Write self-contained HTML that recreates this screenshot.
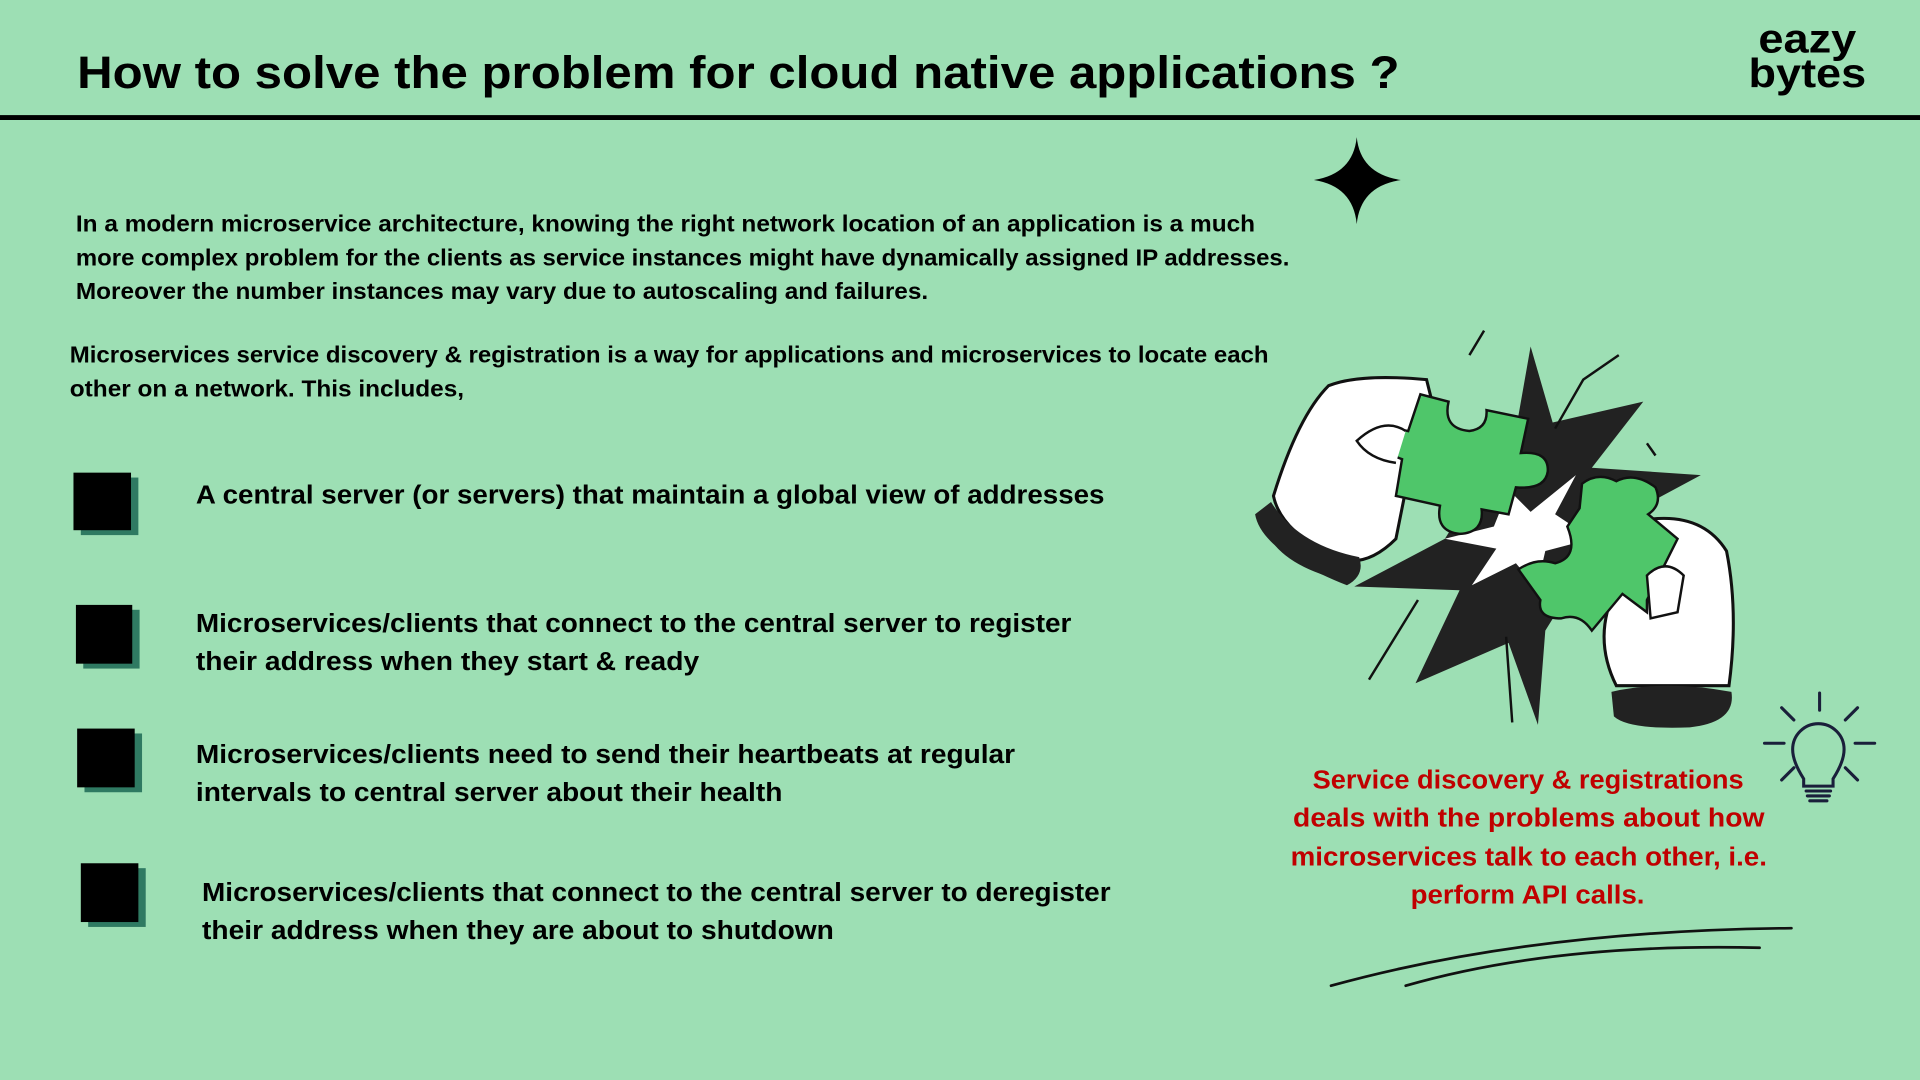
<!DOCTYPE html>
<html><head><meta charset="utf-8"><style>
html,body{margin:0;padding:0;background:#9ddfb4;}
svg{display:block}
text{font-family:"Liberation Sans",sans-serif;font-weight:bold;}
</style></head><body>
<svg width="1920" height="1080" viewBox="0 0 1568 882" xmlns="http://www.w3.org/2000/svg">
<rect width="1568" height="882" fill="#9ddfb4"/>
<text x="63" y="72" font-size="37" textLength="1080" lengthAdjust="spacingAndGlyphs">How to solve the problem for cloud native applications  ?</text>
<text x="1436" y="43" font-size="33" textLength="80" lengthAdjust="spacingAndGlyphs">eazy</text>
<text x="1428" y="71" font-size="33" textLength="96" lengthAdjust="spacingAndGlyphs">bytes</text>
<rect x="0" y="94" width="1568" height="4" fill="#000"/>
<path d="M1108 112 Q1111 142 1144 147 Q1111 152 1108 183 Q1105 152 1073 147 Q1105 142 1108 112Z" fill="#000"/>
<g font-size="18.5">
<text x="62" y="189" textLength="963" lengthAdjust="spacingAndGlyphs">In a modern microservice architecture, knowing the right network location of an application is a much</text>
<text x="62" y="217" textLength="991" lengthAdjust="spacingAndGlyphs">more complex problem for the clients as service instances might have dynamically assigned IP addresses.</text>
<text x="62" y="244" textLength="696" lengthAdjust="spacingAndGlyphs">Moreover the number instances may vary due to autoscaling and failures.</text>
<text x="57" y="296" textLength="979" lengthAdjust="spacingAndGlyphs">Microservices service discovery &amp; registration is a way for applications and microservices to locate each</text>
<text x="57" y="324" textLength="322" lengthAdjust="spacingAndGlyphs">other on a network. This includes,</text>
</g>
<g fill="#2f7a62">
<rect x="66" y="390" width="47" height="47"/><rect x="68" y="498" width="46" height="48"/>
<rect x="69" y="599" width="47" height="48"/><rect x="72" y="709" width="47" height="48"/>
</g>
<g fill="#000">
<rect x="60" y="386" width="47" height="47"/><rect x="62" y="494" width="46" height="48"/>
<rect x="63" y="595" width="47" height="48"/><rect x="66" y="705" width="47" height="48"/>
</g>
<g font-size="21.5">
<text x="160" y="411" textLength="742" lengthAdjust="spacingAndGlyphs">A central server (or servers) that maintain a global view of addresses</text>
<text x="160" y="516" textLength="715" lengthAdjust="spacingAndGlyphs">Microservices/clients that connect to the central server to register</text>
<text x="160" y="547" textLength="411" lengthAdjust="spacingAndGlyphs">their address when they start &amp; ready</text>
<text x="160" y="623" textLength="669" lengthAdjust="spacingAndGlyphs">Microservices/clients need to send their heartbeats at regular</text>
<text x="160" y="654" textLength="479" lengthAdjust="spacingAndGlyphs">intervals to central server about their health</text>
<text x="165" y="736" textLength="742" lengthAdjust="spacingAndGlyphs">Microservices/clients that connect to the central server to deregister</text>
<text x="165" y="767" textLength="516" lengthAdjust="spacingAndGlyphs">their address when they are about to shutdown</text>
</g>
<g font-size="21.5" fill="#c00000">
<text x="1072" y="644" textLength="352" lengthAdjust="spacingAndGlyphs">Service discovery &amp; registrations</text>
<text x="1056" y="675" textLength="385" lengthAdjust="spacingAndGlyphs">deals with the problems about how</text>
<text x="1054" y="707" textLength="389" lengthAdjust="spacingAndGlyphs">microservices talk to each other, i.e.</text>
<text x="1152" y="738" textLength="191" lengthAdjust="spacingAndGlyphs">perform API calls.</text>
</g>
<!-- bulb -->
<g stroke="#1a1f3a" stroke-width="2.5" fill="none" stroke-linecap="round">
<path d="M1473 636 Q1464 622 1464 612 A21 21 0 1 1 1506 612 Q1506 622 1497 636 L1497 642 L1473 642 Z"/>
<path d="M1475 646 H1495 M1476 650 H1494 M1478 654 H1492"/>
<path d="M1486 566 V580 M1455 578 L1465 588 M1517 578 L1507 588 M1441 607 H1457 M1515 607 H1531 M1455 637 L1465 627 M1517 637 L1507 627"/>
</g>
<!-- swooshes -->
<g stroke="#111" stroke-width="2.2" fill="none" stroke-linecap="round">
<path d="M1087 805 Q1250 760 1463 758"/>
<path d="M1148 805 Q1270 770 1437 774"/>
</g>
<!-- illustration -->
<polygon points="1250,283 1268,345 1342,328 1300,382 1389,388 1320,425 1290,470 1262,515 1256,592 1232,525 1156,558 1192,482 1106,479 1180,440 1205,400 1235,368" fill="#222"/>
<polygon points="1287,388 1270,420 1300,440 1262,450 1255,480 1238,460 1202,478 1222,448 1180,440 1220,430 1232,400 1250,418" fill="#fff"/>
<g stroke="#111" stroke-width="2" fill="none">
<path d="M1118 555 L1158 490 M1212 270 L1200 290 M1270 350 L1293 310 L1322 290 M1345 362 L1352 372 M1230 520 L1235 590"/>
</g>
<!-- left hand -->
<path d="M1030 420 Q1035 460 1100 475 L1108 455 L1060 425 Z" fill="#222"/>
<path d="M1040 405 Q1060 340 1085 315 Q1110 305 1165 310 L1170 330 L1150 390 L1140 440 Q1110 470 1080 450 Q1045 430 1040 405Z" fill="#fff" stroke="#111" stroke-width="2.5"/>
<path d="M1025 420 Q1030 450 1100 478 Q1115 470 1110 455 Q1060 445 1038 410 Z" fill="#222"/>
<!-- right hand -->
<path d="M1320 430 Q1385 410 1410 450 Q1420 500 1412 560 L1320 560 Q1300 520 1320 480 Z" fill="#fff" stroke="#111" stroke-width="2.5"/>
<path d="M1316 565 Q1360 555 1414 565 Q1418 590 1380 594 Q1330 596 1318 585 Z" fill="#222"/>
<!-- puzzle pieces -->
<path d="M1160 322 L1183 328 Q1178 350 1200 352 Q1215 350 1214 335 L1248 342 L1242 370 Q1265 368 1264 385 Q1262 400 1238 398 L1232 420 L1210 416 Q1212 435 1192 436 Q1172 434 1176 413 L1140 405 L1145 375 Q1130 370 1132 360 Q1135 348 1150 352 Z" fill="#4fc66a" stroke="#111" stroke-width="2"/>
<path d="M1292 395 Q1305 385 1320 393 Q1335 385 1352 398 Q1358 412 1346 420 L1370 440 L1345 490 L1345 500 L1325 485 L1300 515 Q1290 500 1275 505 Q1255 505 1258 490 L1240 465 Q1255 455 1270 460 Q1290 455 1280 430 L1290 415 Z" fill="#4fc66a" stroke="#111" stroke-width="2"/>
<path d="M1345 470 Q1360 455 1375 470 L1370 500 L1348 505 Z" fill="#fff" stroke="#111" stroke-width="2"/>
<path d="M1148 352 Q1130 340 1108 360 Q1118 375 1140 378" fill="#fff" stroke="#111" stroke-width="2"/>
</svg>
</body></html>
